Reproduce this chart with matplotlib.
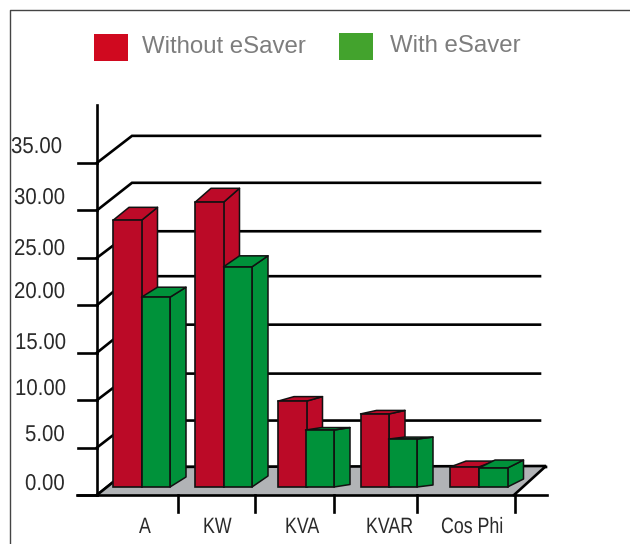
import matplotlib
matplotlib.use("Agg")
import matplotlib.pyplot as plt
import matplotlib.patheffects as pe
from matplotlib.patches import Polygon, Rectangle
from matplotlib.lines import Line2D
from matplotlib.transforms import Affine2D

categories = ["A", "KW", "KVA", "KVAR", "Cos Phi"]
without_esaver = [28.1, 30.0, 9.05, 7.7, 2.1]
with_esaver = [20.0, 23.2, 6.0, 5.05, 2.0]
y_ticks = [0, 5, 10, 15, 20, 25, 30, 35]
y_tick_labels = ["0.00", "5.00", "10.00", "15.00", "20.00", "25.00", "30.00", "35.00"]

W, H = 630, 544
BASE_PX = 495.0
PX_PER_UNIT = 9.49
BAR_BASE = 8 / PX_PER_UNIT

plt.rcParams["font.family"] = ["Liberation Sans", "DejaVu Sans"]
fig = plt.figure(figsize=(6.3, 5.44), dpi=100)
ax = fig.add_axes([0, 0, 1, 1])
ax.set_xlim(0, W)
ax.set_ylim((BASE_PX - H) / PX_PER_UNIT, BASE_PX / PX_PER_UNIT)
ax.axis("off")


class Condense(pe.AbstractPathEffect):
    """Squeeze glyphs horizontally from the text's left edge (condensed type)."""

    def __init__(self, sx):
        super().__init__()
        self.sx = sx

    def draw_path(self, renderer, gc, tpath, affine, rgbFace=None):
        renderer.draw_path(gc, tpath, Affine2D().scale(self.sx, 1) + affine, rgbFace)


def up(px):
    return px / PX_PER_UNIT


def row(py):
    return up(BASE_PX - py)


RED, RED_SIDE = "#bb0a27", "#bd0a28"
GREEN, GREEN_SIDE = "#00923a", "#00913a"
EDGE = "#111111"
AXIS_LW = 1.9

# outer frame
ax.add_line(Line2D([10, 10, W], [row(H), row(10), row(10)], color="#444444", lw=1.0, zorder=1))

# legend
ax.add_patch(Rectangle((94, row(61)), 34, up(27), fc="#d0091f", ec="none", zorder=5))
ax.add_patch(Rectangle((339, row(60)), 34, up(27), fc="#43a32d", ec="none", zorder=5))
ax.text(142, row(53), "Without eSaver", fontsize=17.3, color="#7d7d7d", va="baseline", ha="left")
ax.text(390, row(52), "With eSaver", fontsize=17.3, color="#7d7d7d", va="baseline", ha="left")

# back wall gridlines (pixel offset of each back line above its front tick)
back_shift = [28, 27, 26.5, 28, 29, 26.5, 27.5, 27]
BACK_X0, BACK_X1 = 132, 540
for v, s in zip(y_ticks, back_shift):
    ax.add_line(Line2D([97, BACK_X0, BACK_X1 if v else 546],
                       [v, v + up(s), v + up(s)],
                       color="black", lw=AXIS_LW, zorder=2, solid_joinstyle="miter"))

# floor
ax.add_patch(Polygon([(97, 0), (132, up(28)), (546, up(29)), (514, 0)],
                     closed=True, fc="#b1b3b6", ec="none", zorder=3))
ax.add_line(Line2D([97, 132, 546, 514], [0, up(28), up(29), 0], color="black", lw=AXIS_LW, zorder=3,
                   solid_joinstyle="miter"))

# axes and ticks
ax.add_line(Line2D([97, 97], [0, up(390)], color="black", lw=AXIS_LW, zorder=4))
ax.add_line(Line2D([77, 547], [0, 0], color="black", lw=AXIS_LW, zorder=4))
ytick_label_left = [25, 25, 15, 15, 14, 14, 14, 11]
ytick_label_base = [490, 441, 395, 349, 298, 255, 204, 153]
for v, lab, lx, by in zip(y_ticks, y_tick_labels, ytick_label_left, ytick_label_base):
    ax.add_line(Line2D([78, 97], [v, v], color="black", lw=AXIS_LW, zorder=4))
    ax.text(lx, row(by), lab, fontsize=16.5, color="#2a2a2a", ha="left", va="baseline", zorder=6,
            path_effects=[Condense(0.89)])

xtick_px = [178, 254.5, 333.5, 417, 515]
xlabel_left = [139, 203, 285, 366, 441]
for tx, lx, cat in zip(xtick_px, xlabel_left, categories):
    ax.add_line(Line2D([tx, tx], [0, up(-17)], color="black", lw=AXIS_LW, zorder=4))
    ax.text(lx, row(533), cat, fontsize=16, color="#2a2a2a", ha="left", va="baseline",
            path_effects=[Condense(0.8)])

# bars
red_left = [113, 195, 278, 360.5, 450]
green_left = [141.5, 223.5, 305.5, 388.5, 479]
bar_w = 28.5
red_rise = [13, 14, 4.5, 3.5, 6]
green_rise = [10, 11, 2.5, 2, 8]
DEPTH = 16


def bar3d(x, value, rise, face, side, z):
    b, t = BAR_BASE, value + BAR_BASE
    r = up(rise)
    x1 = x + bar_w
    x2 = x1 + DEPTH
    ax.add_patch(Polygon([(x1, b), (x2, b + r), (x2, t + r), (x1, t)], closed=True,
                         fc=side, ec=EDGE, lw=1.1, zorder=z, joinstyle="round"))
    ax.add_patch(Polygon([(x, t), (x + DEPTH, t + r), (x2, t + r), (x1, t)], closed=True,
                         fc=side, ec=EDGE, lw=1.1, zorder=z, joinstyle="round"))
    ax.add_patch(Rectangle((x, b), bar_w, t - b, fc=face, ec=EDGE, lw=1.2, zorder=z + 0.1))


for i in range(len(categories)):
    bar3d(red_left[i], without_esaver[i], red_rise[i], RED, RED_SIDE, 5 + i * 0.5)
    bar3d(green_left[i], with_esaver[i], green_rise[i], GREEN, GREEN_SIDE, 5.2 + i * 0.5)

fig.savefig("out.png", dpi=100)
